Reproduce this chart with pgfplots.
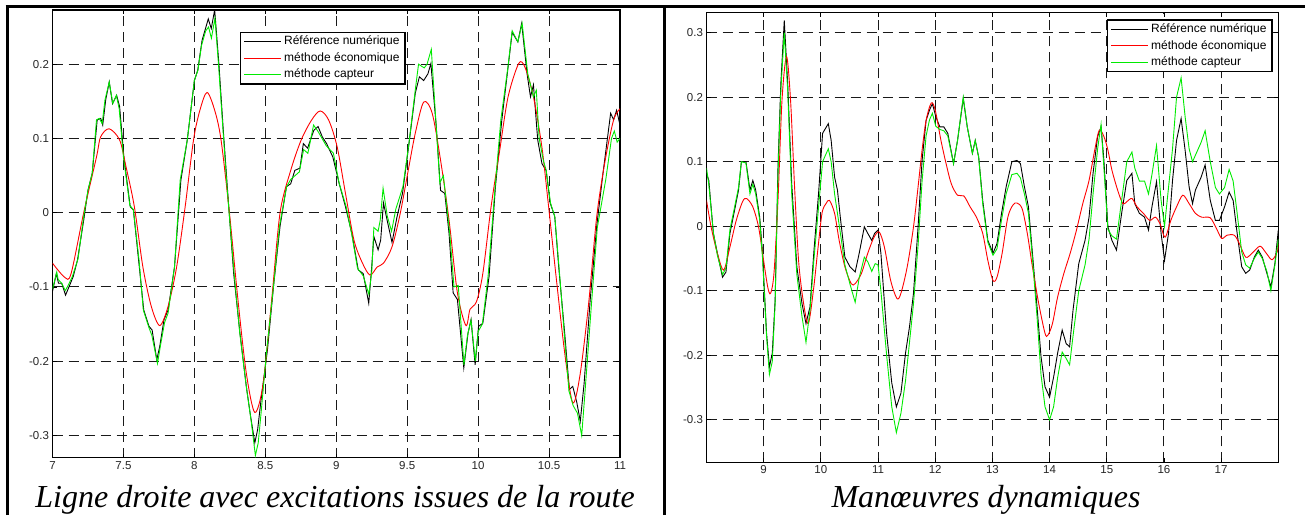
\documentclass[border=0pt]{standalone}
\usepackage{pgfplots}
\pgfplotsset{compat=1.18}
\usepackage{fontspec}
\setmainfont{Liberation Serif}
\newfontfamily\arial{Liberation Sans}
\definecolor{mgreen}{RGB}{0,235,0}
\definecolor{mred}{RGB}{255,0,0}
\pgfplotsset{
  common/.style={
    scale only axis, anchor=south west,
    axis line style={line width=1.4pt},
    tick align=inside, major tick length=4pt,
    tick style={black, line width=0.8pt},
    grid=major,
    major grid style={dash pattern=on 10pt off 6pt, line width=1pt, black!90},
    ticklabel style={font=\arial\fontsize{11.5}{13}\selectfont, text=black!85},
    legend cell align=left,
    legend image code/.code={\draw[#1] (0pt,0pt) -- (37pt,0pt);},
    legend style={draw=black, line width=1.4pt, fill=white,
      font=\arial\fontsize{12}{14}\selectfont,
      inner xsep=3pt, inner ysep=1pt,
      nodes={text height=9pt, text depth=2.5pt, inner sep=2.5pt}},
  },
  ref/.style={black, line width=0.9pt},
  eco/.style={mred, line width=0.9pt},
  cap/.style={mgreen, line width=0.9pt},
}
\begin{document}
\begin{tikzpicture}[x=1pt,y=1pt]
\useasboundingbox (0,0) rectangle (1305,515);
\draw[line width=3pt] (5.5,508) -- (1305,508);
\draw[line width=3pt] (7,0) -- (7,509.5);
\draw[line width=3pt] (664,0) -- (664,509.5);

\begin{axis}[common, at={(52.5pt,57.3pt)}, width=567.5pt, height=447.7pt,
  xmin=7, xmax=11, ymin=-0.33, ymax=0.273,
  xtick={7,7.5,8,8.5,9,9.5,10,10.5,11},
  xticklabels={7,7.5,8,8.5,9,9.5,10,10.5,11},
  ytick={-0.3,-0.2,-0.1,0,0.1,0.2},
  yticklabels={-0.3,-0.2,-0.1,0,0.1,0.2},
  legend style={at={(0.3304,0.9515)}, anchor=north west}]
\addplot[ref] coordinates {(7.0,-0.106) (7.027,-0.082) (7.042,-0.095) (7.065,-0.095) (7.092,-0.111) (7.116,-0.1) (7.146,-0.086) (7.176,-0.064) (7.22,-0.01) (7.25,0.03) (7.28,0.053) (7.315,0.125) (7.34,0.127) (7.354,0.118) (7.375,0.152) (7.40,0.176) (7.423,0.147) (7.452,0.158) (7.473,0.143) (7.503,0.075) (7.548,0.008) (7.57,0.004) (7.607,-0.064) (7.643,-0.131) (7.68,-0.153) (7.702,-0.158) (7.735,-0.198) (7.756,-0.18) (7.786,-0.144) (7.815,-0.131) (7.86,-0.073) (7.905,0.044) (7.95,0.098) (8.0,0.178) (8.024,0.192) (8.054,0.232) (8.098,0.261) (8.119,0.248) (8.143,0.273) (8.173,0.2) (8.202,0.116) (8.232,0.035) (8.277,-0.082) (8.321,-0.162) (8.366,-0.234) (8.396,-0.274) (8.426,-0.310) (8.446,-0.292) (8.47,-0.252) (8.515,-0.185) (8.56,-0.095) (8.604,-0.018) (8.649,0.035) (8.679,0.039) (8.708,0.057) (8.744,0.060) (8.768,0.093) (8.798,0.087) (8.842,0.111) (8.872,0.116) (8.902,0.102) (8.932,0.093) (8.976,0.075) (9.021,0.039) (9.065,0.008) (9.11,-0.028) (9.155,-0.077) (9.19,-0.082) (9.229,-0.122) (9.25,-0.073) (9.265,-0.032) (9.295,-0.05) (9.313,-0.037) (9.333,0.013) (9.363,-0.014) (9.393,-0.04) (9.429,-0.005) (9.467,0.026) (9.51,0.089) (9.557,0.161) (9.586,0.183) (9.616,0.178) (9.646,0.187) (9.667,0.201) (9.705,0.116) (9.735,0.03) (9.765,0.026) (9.795,-0.028) (9.824,-0.108) (9.854,-0.117) (9.899,-0.209) (9.929,-0.162) (9.95,-0.144) (9.979,-0.205) (10.003,-0.153) (10.033,-0.149) (10.077,-0.086) (10.122,0.035) (10.167,0.125) (10.211,0.196) (10.24,0.243) (10.28,0.230) (10.307,0.255) (10.345,0.187) (10.369,0.156) (10.39,0.172) (10.42,0.098) (10.45,0.066) (10.479,0.057) (10.508,0.013) (10.54,-0.005) (10.568,-0.073) (10.61,-0.162) (10.643,-0.238) (10.667,-0.234) (10.696,-0.256) (10.72,-0.281) (10.747,-0.230) (10.79,-0.117) (10.836,-0.018) (10.88,0.053) (10.934,0.134) (10.955,0.125) (10.976,0.138) (11.0,0.118)};
\addlegendentry{Référence numérique}
\addplot[eco, smooth] coordinates {(7.0,-0.068) (7.086,-0.087) (7.131,-0.082) (7.22,0.0) (7.31,0.075) (7.339,0.102) (7.399,0.113) (7.473,0.098) (7.518,0.062) (7.577,0.008) (7.637,-0.073) (7.696,-0.126) (7.756,-0.152) (7.815,-0.126) (7.875,-0.073) (7.935,0.008) (7.994,0.098) (8.039,0.138) (8.089,0.162) (8.143,0.138) (8.188,0.098) (8.247,0.0) (8.307,-0.117) (8.366,-0.216) (8.426,-0.269) (8.485,-0.230) (8.545,-0.117) (8.604,0.0) (8.679,0.057) (8.753,0.098) (8.827,0.125) (8.887,0.137) (8.946,0.125) (9.006,0.089) (9.065,0.026) (9.125,-0.037) (9.185,-0.068) (9.238,-0.084) (9.289,-0.073) (9.333,-0.068) (9.393,-0.046) (9.452,0.0) (9.512,0.062) (9.557,0.107) (9.616,0.149) (9.676,0.134) (9.735,0.071) (9.795,-0.01) (9.854,-0.108) (9.914,-0.152) (9.943,-0.13) (9.988,-0.12) (10.033,-0.082) (10.092,0.009) (10.152,0.084) (10.211,0.156) (10.286,0.201) (10.33,0.196) (10.39,0.156) (10.449,0.089) (10.494,0.013) (10.554,-0.094) (10.613,-0.193) (10.667,-0.256) (10.717,-0.220) (10.777,-0.126) (10.836,-0.005) (10.896,0.071) (10.955,0.125) (11.0,0.140)};
\addlegendentry{méthode économique}
\addplot[cap] coordinates {(7.0,-0.103) (7.03,-0.080) (7.04,-0.09) (7.065,-0.095) (7.09,-0.105) (7.11,-0.098) (7.14,-0.086) (7.18,-0.062) (7.22,-0.005) (7.25,0.03) (7.28,0.053) (7.31,0.125) (7.33,0.127) (7.35,0.12) (7.37,0.152) (7.40,0.176) (7.425,0.147) (7.45,0.158) (7.47,0.14) (7.50,0.075) (7.545,0.01) (7.57,0.004) (7.61,-0.064) (7.64,-0.131) (7.68,-0.155) (7.70,-0.165) (7.74,-0.203) (7.76,-0.18) (7.79,-0.148) (7.815,-0.135) (7.86,-0.073) (7.90,0.044) (7.95,0.098) (8.0,0.178) (8.025,0.192) (8.05,0.225) (8.08,0.245) (8.10,0.25) (8.12,0.235) (8.145,0.262) (8.17,0.2) (8.20,0.116) (8.23,0.035) (8.28,-0.082) (8.32,-0.162) (8.37,-0.24) (8.40,-0.28) (8.43,-0.327) (8.45,-0.31) (8.47,-0.27) (8.51,-0.185) (8.56,-0.095) (8.60,-0.018) (8.65,0.035) (8.68,0.045) (8.71,0.05) (8.74,0.055) (8.77,0.085) (8.80,0.08) (8.84,0.118) (8.87,0.11) (8.90,0.1) (8.93,0.09) (8.98,0.08) (9.02,0.04) (9.07,0.008) (9.11,-0.03) (9.15,-0.075) (9.19,-0.085) (9.23,-0.11) (9.25,-0.08) (9.265,-0.02) (9.295,-0.025) (9.31,-0.01) (9.33,0.033) (9.36,-0.005) (9.39,-0.025) (9.42,0.005) (9.47,0.035) (9.51,0.09) (9.56,0.17) (9.58,0.2) (9.62,0.195) (9.64,0.2) (9.67,0.22) (9.70,0.13) (9.73,0.04) (9.755,0.05) (9.80,-0.028) (9.83,-0.1) (9.86,-0.098) (9.90,-0.205) (9.925,-0.165) (9.95,-0.145) (9.98,-0.2) (10.0,-0.16) (10.03,-0.15) (10.07,-0.086) (10.12,0.035) (10.16,0.125) (10.21,0.196) (10.24,0.245) (10.28,0.23) (10.31,0.255) (10.35,0.187) (10.39,0.156) (10.41,0.165) (10.43,0.1) (10.46,0.07) (10.48,0.057) (10.51,0.013) (10.54,-0.005) (10.57,-0.073) (10.61,-0.17) (10.64,-0.24) (10.67,-0.26) (10.70,-0.27) (10.73,-0.30) (10.75,-0.25) (10.80,-0.12) (10.84,-0.02) (10.90,0.045) (10.94,0.1) (10.96,0.11) (10.98,0.095) (11.0,0.1)};
\addlegendentry{méthode capteur}
\end{axis}
\node[anchor=base, font=\fontsize{32}{36}\selectfont\itshape] at (335,8) {Ligne droite avec excitations issues de la route};

\begin{axis}[common, at={(706.5pt,52.7pt)}, width=571.8pt, height=449.6pt,
  xmin=8, xmax=18, ymin=-0.366, ymax=0.331,
  xtick={9,10,11,12,13,14,15,16,17},
  xticklabels={9,10,11,12,13,14,15,16,17},
  ytick={-0.3,-0.2,-0.1,0,0.1,0.2,0.3},
  yticklabels={-0.3,-0.2,-0.1,0,0.1,0.2,0.3},
  legend style={at={(0.9902,0.9853)}, anchor=north east}]
\addplot[ref] coordinates {(8.0,0.082)(8.04,0.071)(8.12,-0.011)(8.19,-0.042)(8.28,-0.079)(8.34,-0.071)(8.41,-0.011)(8.48,0.020)(8.56,0.056)(8.61,0.100)(8.69,0.100)(8.76,0.056)(8.81,0.071)(8.86,0.056)(8.93,0.014)(8.98,-0.042)(9.05,-0.166)(9.10,-0.218)(9.15,-0.197)(9.20,-0.115)(9.25,0.092)(9.30,0.221)(9.36,0.319)(9.42,0.221)(9.49,0.066)(9.58,-0.063)(9.67,-0.120)(9.74,-0.151)(9.81,-0.125)(9.88,-0.037)(9.96,0.051)(10.03,0.144)(10.13,0.159)(10.18,0.133)(10.24,0.076)(10.29,0.056)(10.34,0.014)(10.42,-0.048)(10.51,-0.063)(10.60,-0.071)(10.67,-0.042)(10.76,-0.001)(10.82,-0.011)(10.89,-0.022)(10.94,-0.011)(11.0,-0.006)(11.05,-0.042)(11.15,-0.166)(11.24,-0.243)(11.32,-0.280)(11.40,-0.259)(11.48,-0.197)(11.55,-0.156)(11.62,-0.104)(11.70,-0.001)(11.77,0.102)(11.84,0.164)(11.90,0.180)(11.95,0.190)(12.01,0.170)(12.08,0.154)(12.15,0.154)(12.22,0.144)(12.32,0.097)(12.39,0.133)(12.49,0.198)(12.56,0.154)(12.65,0.113)(12.70,0.133)(12.76,0.107)(12.83,0.040)(12.92,-0.022)(13.01,-0.042)(13.08,-0.027)(13.16,0.020)(13.24,0.061)(13.34,0.100)(13.43,0.102)(13.49,0.097)(13.56,0.061)(13.63,0.030)(13.70,-0.042)(13.78,-0.125)(13.85,-0.202)(13.92,-0.249)(14.0,-0.265)(14.07,-0.234)(14.14,-0.197)(14.22,-0.161)(14.29,-0.182)(14.35,-0.187)(14.41,-0.130)(14.51,-0.058)(14.62,-0.022)(14.69,0.014)(14.76,0.082)(14.84,0.139)(14.90,0.154)(14.95,0.102)(15.02,-0.001)(15.09,-0.022)(15.17,-0.037)(15.26,0.020)(15.35,0.071)(15.44,0.082)(15.49,0.035)(15.57,0.020)(15.66,0.014)(15.73,-0.006)(15.79,0.030)(15.87,0.069)(15.95,-0.011)(16.01,-0.053)(16.08,-0.011)(16.15,0.071)(16.22,0.133)(16.30,0.167)(16.37,0.118)(16.44,0.061)(16.50,0.035)(16.55,0.056)(16.65,0.076)(16.72,0.095)(16.81,0.040)(16.90,0.009)(16.97,0.009)(17.06,0.030)(17.14,0.053)(17.21,0.040)(17.28,-0.011)(17.36,-0.063)(17.43,-0.073)(17.50,-0.068)(17.58,-0.048)(17.65,-0.037)(17.72,-0.048)(17.80,-0.073)(17.87,-0.094)(17.94,-0.058)(18.0,-0.006)};
\addlegendentry{Référence numérique}
\addplot[eco, smooth] coordinates {(8.0,0.040)(8.08,-0.001)(8.19,-0.042)(8.30,-0.068)(8.41,-0.032)(8.52,0.009)(8.63,0.038)(8.70,0.043)(8.81,0.030)(8.91,-0.001)(8.99,-0.048)(9.07,-0.094)(9.12,-0.104)(9.18,-0.073)(9.25,0.040)(9.32,0.195)(9.40,0.263)(9.47,0.195)(9.54,0.061)(9.61,-0.053)(9.69,-0.115)(9.78,-0.151)(9.87,-0.099)(9.94,-0.042)(10.02,0.020)(10.09,0.035)(10.15,0.040)(10.24,0.020)(10.32,-0.022)(10.42,-0.063)(10.53,-0.089)(10.60,-0.089)(10.71,-0.073)(10.82,-0.042)(10.93,-0.017)(11.02,-0.009)(11.11,-0.032)(11.22,-0.084)(11.33,-0.112)(11.40,-0.104)(11.51,-0.063)(11.62,-0.001)(11.70,0.061)(11.77,0.118)(11.84,0.164)(11.93,0.191)(12.00,0.180)(12.10,0.133)(12.19,0.097)(12.28,0.066)(12.39,0.048)(12.50,0.047)(12.61,0.030)(12.72,0.014)(12.83,-0.011)(12.92,-0.053)(13.01,-0.084)(13.08,-0.079)(13.17,-0.042)(13.27,0.014)(13.36,0.033)(13.43,0.036)(13.52,0.027)(13.61,-0.011)(13.70,-0.063)(13.81,-0.120)(13.92,-0.166)(13.97,-0.169)(14.05,-0.151)(14.14,-0.110)(14.25,-0.073)(14.36,-0.042)(14.47,-0.006)(14.58,0.035)(14.69,0.071)(14.80,0.123)(14.87,0.149)(14.95,0.139)(15.02,0.118)(15.09,0.087)(15.19,0.056)(15.28,0.035)(15.35,0.038)(15.44,0.043)(15.53,0.030)(15.64,0.020)(15.75,0.009)(15.85,0.014)(15.93,0.004)(16.02,-0.017)(16.12,0.009)(16.22,0.030)(16.33,0.048)(16.44,0.035)(16.55,0.020)(16.66,0.014)(16.81,0.013)(16.92,-0.004)(17.01,-0.019)(17.10,-0.014)(17.23,-0.014)(17.32,-0.027)(17.43,-0.048)(17.54,-0.042)(17.68,-0.031)(17.79,-0.042)(17.89,-0.052)(17.98,-0.040)(18.0,-0.027)};
\addlegendentry{méthode économique}
\addplot[cap] coordinates {(8.0,0.09)(8.04,0.065)(8.12,-0.01)(8.19,-0.045)(8.28,-0.075)(8.34,-0.065)(8.41,-0.005)(8.48,0.025)(8.56,0.06)(8.61,0.10)(8.69,0.098)(8.76,0.05)(8.81,0.065)(8.86,0.05)(8.93,0.01)(8.98,-0.05)(9.05,-0.17)(9.10,-0.23)(9.15,-0.21)(9.20,-0.12)(9.25,0.08)(9.30,0.21)(9.36,0.30)(9.42,0.21)(9.49,0.05)(9.58,-0.075)(9.67,-0.14)(9.74,-0.18)(9.81,-0.13)(9.88,-0.05)(9.96,0.03)(10.03,0.10)(10.13,0.12)(10.18,0.10)(10.24,0.05)(10.29,0.02)(10.34,-0.01)(10.42,-0.06)(10.51,-0.09)(10.60,-0.118)(10.67,-0.08)(10.76,-0.048)(10.82,-0.055)(10.89,-0.07)(10.95,-0.058)(11.0,-0.06)(11.05,-0.10)(11.15,-0.20)(11.24,-0.28)(11.32,-0.32)(11.40,-0.29)(11.48,-0.24)(11.55,-0.18)(11.62,-0.12)(11.70,-0.03)(11.77,0.07)(11.84,0.14)(11.90,0.165)(11.95,0.175)(12.01,0.155)(12.08,0.15)(12.15,0.148)(12.22,0.14)(12.32,0.097)(12.39,0.133)(12.49,0.200)(12.56,0.154)(12.65,0.113)(12.70,0.133)(12.76,0.107)(12.83,0.035)(12.92,-0.025)(13.01,-0.045)(13.08,-0.035)(13.16,0.01)(13.24,0.05)(13.34,0.08)(13.43,0.082)(13.49,0.075)(13.56,0.05)(13.63,0.02)(13.70,-0.05)(13.78,-0.14)(13.85,-0.23)(13.92,-0.28)(14.0,-0.30)(14.07,-0.28)(14.14,-0.235)(14.22,-0.195)(14.29,-0.205)(14.35,-0.215)(14.41,-0.17)(14.51,-0.10)(14.62,-0.06)(14.69,-0.02)(14.76,0.05)(14.84,0.12)(14.90,0.158)(14.95,0.09)(15.02,-0.005)(15.09,-0.015)(15.17,-0.02)(15.26,0.04)(15.35,0.10)(15.44,0.115)(15.49,0.09)(15.57,0.07)(15.66,0.07)(15.73,0.05)(15.79,0.08)(15.87,0.125)(15.95,0.04)(16.01,0.0)(16.08,0.06)(16.15,0.12)(16.22,0.20)(16.30,0.23)(16.37,0.17)(16.44,0.12)(16.50,0.10)(16.55,0.11)(16.65,0.13)(16.72,0.148)(16.81,0.10)(16.90,0.06)(16.97,0.05)(17.06,0.06)(17.14,0.088)(17.21,0.07)(17.28,0.02)(17.36,-0.04)(17.43,-0.06)(17.50,-0.065)(17.58,-0.05)(17.65,-0.04)(17.72,-0.05)(17.80,-0.07)(17.87,-0.10)(17.94,-0.06)(18.0,-0.02)};
\addlegendentry{méthode capteur}
\end{axis}
\node[anchor=base, font=\fontsize{32}{36}\selectfont\itshape] at (986,8) {Manœuvres dynamiques};
\end{tikzpicture}
\end{document}
